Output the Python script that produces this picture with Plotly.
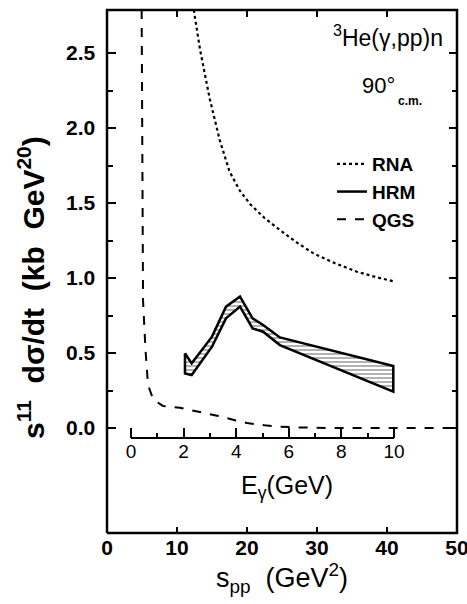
import plotly.graph_objects as go

# ---- data (s_pp in GeV^2, y = s^11 dsigma/dt in kb GeV^20) ----
rna_s = [12.4, 13.3, 14.7, 16.1, 17.5, 19.0, 20.5, 22.5, 24.7, 27.0, 29.5, 32.5, 35.7, 38.5, 41.1]
rna_y = [2.787, 2.52, 2.19, 1.92, 1.71, 1.58, 1.49, 1.40, 1.32, 1.24, 1.164, 1.10, 1.042, 1.005, 0.976]

qgs_s = [4.95, 5.05, 5.15, 5.5, 5.86, 6.6, 8.0, 10.4, 13.3, 15.9, 18.0, 20.0, 22.5, 24.7, 28.0, 32.0, 40.0, 50.0]
qgs_y = [2.787, 1.8, 0.85, 0.52, 0.287, 0.19, 0.147, 0.135, 0.107, 0.08, 0.055, 0.033, 0.018, 0.008, 0.003, 0.0, 0.0, 0.0]

hrm_s = [11.14, 12.1, 15.0, 17.0, 19.0, 20.8, 22.3, 24.7, 40.9]
hrm_upper = [0.498, 0.431, 0.609, 0.809, 0.876, 0.731, 0.687, 0.604, 0.413]
hrm_lower = [0.364, 0.353, 0.542, 0.731, 0.809, 0.664, 0.642, 0.553, 0.242]

s_ticks = [0, 10, 20, 30, 40, 50]
y_ticks = [0.0, 0.5, 1.0, 1.5, 2.0, 2.5]
y_minor = [0.25, 0.75, 1.25, 1.75, 2.25]
e_ticks = [0, 2, 4, 6, 8, 10]
e_minor = [1, 3, 5, 7, 9]

FRAME_S = [0, 50]            # s_pp extent of the frame
FRAME_Y = [-0.70, 2.787]     # y extent of the frame
S_RANGE = [-0.857, 50.857]   # plot area slightly larger than the frame
Y_RANGE = [-0.74, 2.8267]
E_SPAN = [0, 10]             # extent of the inner E_gamma axis
E_RANGE = [-1.1407, 12.6236] # E_gamma values at the plot-area edges
E_AXIS_Y = -0.067            # height of the inner E_gamma axis line

FONT = "Liberation Sans, Arial, sans-serif"

def fx(v):  # s value -> fraction of plot width
    return (v - S_RANGE[0]) / (S_RANGE[1] - S_RANGE[0])

def fy(v):  # y value -> fraction of plot height
    return (v - Y_RANGE[0]) / (Y_RANGE[1] - Y_RANGE[0])

fig = go.Figure()

# HRM band (closed polygon, hatched)
band_x = hrm_s + hrm_s[::-1] + [hrm_s[0]]
band_y = hrm_upper + hrm_lower[::-1] + [hrm_upper[0]]
fig.add_trace(go.Scatter(
    x=band_x, y=band_y, mode="lines", fill="toself",
    fillcolor="white",
    fillpattern=dict(shape="-", fgcolor="black", bgcolor="white", size=4, solidity=0.3),
    line=dict(color="black", width=2.5), showlegend=False, hoverinfo="skip"))

fig.add_trace(go.Scatter(x=rna_s, y=rna_y, mode="lines", name="RNA",
                         line=dict(color="black", width=2.2, dash="dot"), legendrank=1))
fig.add_trace(go.Scatter(x=[None], y=[None], mode="lines", name="HRM",
                         line=dict(color="black", width=2.5), legendrank=2))
fig.add_trace(go.Scatter(x=qgs_s, y=qgs_y, mode="lines", name="QGS",
                         line=dict(color="black", width=2, dash="dash"), legendrank=3))

# plot frame
fig.add_trace(go.Scatter(x=[FRAME_S[0], FRAME_S[1], FRAME_S[1], FRAME_S[0], FRAME_S[0]],
                         y=[FRAME_Y[0], FRAME_Y[0], FRAME_Y[1], FRAME_Y[1], FRAME_Y[0]],
                         mode="lines", line=dict(color="black", width=2.5),
                         showlegend=False, hoverinfo="skip"))

# inner E_gamma axis line (spans 0..10 GeV only)
fig.add_trace(go.Scatter(x=E_SPAN, y=[E_AXIS_Y, E_AXIS_Y], xaxis="x2", yaxis="y",
                         mode="lines", line=dict(color="black", width=2),
                         showlegend=False, hoverinfo="skip"))

# hosts for the tick-only top/right axes
for xa, ya in [("x3", "y"), ("x", "y2")]:
    fig.add_trace(go.Scatter(x=[None], y=[None], xaxis=xa, yaxis=ya, mode="lines",
                             showlegend=False, hoverinfo="skip"))

L, R, T, B = 101, 4, 4, 65
W, H = 467, 604
pw, ph = W - L - R, H - T - B

def px(xp):
    return (xp - L) / pw

def py(yp):
    return (H - B - yp) / ph

def ann(text, x, y, size, weight="normal", xanchor="center", angle=0):
    return dict(text=text, x=px(x), y=py(y), xref="paper", yref="paper",
                xanchor=xanchor, yanchor="middle", textangle=angle, showarrow=False,
                font=dict(size=size, family=FONT, weight=weight))

XT = dict(ticks="inside", ticklen=6, tickwidth=2, tickcolor="black")
YT = dict(ticks="inside", ticklen=8, tickwidth=2, tickcolor="black",
          minor=dict(tickvals=y_minor, ticks="inside", ticklen=5, tickwidth=2,
                     tickcolor="black", showgrid=False))

fig.update_layout(
    width=W, height=H,
    margin=dict(l=L, r=R, t=T, b=B, autoexpand=False),
    paper_bgcolor="white", plot_bgcolor="rgba(0,0,0,0)",
    font=dict(family=FONT, color="black"),
    showlegend=True,
    legend=dict(x=px(332), y=py(145), xanchor="left", yanchor="top",
                bgcolor="rgba(0,0,0,0)", borderwidth=0,
                font=dict(size=19, family=FONT, weight="bold"),
                tracegroupgap=0),
    xaxis=dict(range=S_RANGE, anchor="free", position=fy(FRAME_Y[0]), side="bottom",
               tickvals=s_ticks, **XT,
               showline=False, showgrid=False, zeroline=False,
               tickfont=dict(size=21, family=FONT, weight="bold"),
               ticklabeloverflow="allow",
               title=dict(text="s<sub>pp</sub>  (GeV<sup>2</sup>)", font=dict(size=27, family=FONT),
                          standoff=2)),
    xaxis3=dict(range=S_RANGE, overlaying="x", anchor="free", position=fy(FRAME_Y[1]),
                side="top", tickvals=s_ticks, **XT, showticklabels=False,
                showline=False, showgrid=False, zeroline=False),
    yaxis=dict(range=Y_RANGE, anchor="free", position=fx(FRAME_S[0]), side="left",
               tickvals=y_ticks, ticktext=[f"{v:.1f}  " for v in y_ticks], **YT,
               showline=False, showgrid=False, zeroline=False,
               tickfont=dict(size=21, family=FONT, weight="bold")),
    yaxis2=dict(range=Y_RANGE, overlaying="y", anchor="free", position=fx(FRAME_S[1]),
                side="right", tickvals=y_ticks, **YT, showticklabels=False,
                showline=False, showgrid=False, zeroline=False),
    xaxis2=dict(range=E_RANGE, overlaying="x", anchor="free", position=fy(E_AXIS_Y),
                tickvals=e_ticks, ticks="inside", ticklen=10, tickwidth=2, tickcolor="black",
                minor=dict(tickvals=e_minor, ticks="inside", ticklen=5, tickwidth=2,
                           tickcolor="black", showgrid=False),
                showline=False, showgrid=False, zeroline=False,
                tickfont=dict(size=19, family=FONT)),
    annotations=[
        ann("s<sup>11</sup>  dσ/dt  (kb  GeV<sup>20</sup>)", 31, 288, 30, "bold", angle=-90),
        ann("E<sub>γ</sub>(GeV)", 287, 487, 25),
        ann("<sup>3</sup>He(γ,pp)n", 388, 36, 23),
        ann("90°", 378, 85, 22),
        ann("c.m.", 396, 101, 12, "bold", xanchor="left"),
    ],
)

fig.write_html("out.html", config={"displayModeBar": False},
               post_script="document.body.style.margin='0px';")
